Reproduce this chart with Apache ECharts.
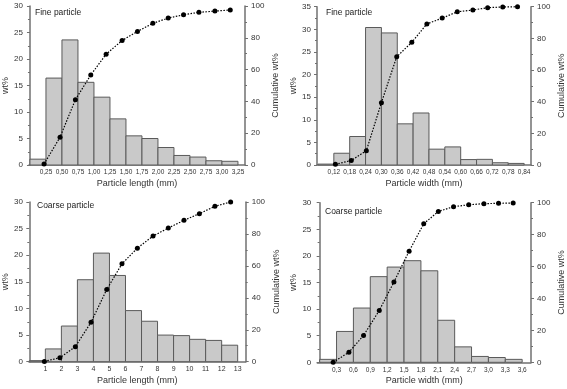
<!DOCTYPE html>
<html>
<head>
<meta charset="utf-8">
<script src="https://cdn.jsdelivr.net/npm/echarts@6/dist/echarts.min.js"></script>
<style>html,body{margin:0;padding:0;background:#fff}#c{width:567px;height:389px}</style>
</head>
<body>
<div id="c"></div>
<script>
// ---------- DATA ----------
// Panel A: fine particle, length
const fineLenEdges = [0, 0.25, 0.5, 0.75, 1.0, 1.25, 1.5, 1.75, 2.0, 2.25, 2.5, 2.75, 3.0, 3.25];
const fineLenWt = [1.1, 16.4, 23.6, 15.6, 12.8, 8.7, 5.5, 5.0, 3.3, 1.8, 1.5, 0.8, 0.7];
const fineLenCumX = [0.22, 0.47, 0.71, 0.95, 1.19, 1.44, 1.68, 1.92, 2.16, 2.40, 2.64, 2.89, 3.13];
const fineLenCumY = [0.6, 17.5, 41.1, 56.6, 69.7, 78.3, 84.0, 89.1, 92.4, 94.5, 96.0, 96.8, 97.5];
const fineLenTicks = [0.25, 0.5, 0.75, 1.0, 1.25, 1.5, 1.75, 2.0, 2.25, 2.5, 2.75, 3.0, 3.25];

// Panel B: fine particle, width
const fineWidEdges = [0.06, 0.12, 0.18, 0.24, 0.30, 0.36, 0.42, 0.48, 0.54, 0.60, 0.66, 0.72, 0.78, 0.84];
const fineWidWt = [0.2, 2.6, 6.3, 30.4, 29.2, 9.1, 11.5, 3.5, 4.0, 1.2, 1.25, 0.5, 0.35];
const fineWidCumX = [0.126, 0.186, 0.243, 0.300, 0.358, 0.415, 0.472, 0.530, 0.587, 0.646, 0.702, 0.759, 0.815];
const fineWidCumY = [0.4, 2.9, 9.0, 39.4, 68.4, 77.5, 89.1, 92.8, 96.8, 97.9, 99.4, 99.8, 100];
const fineWidTicks = [0.12, 0.18, 0.24, 0.30, 0.36, 0.42, 0.48, 0.54, 0.60, 0.66, 0.72, 0.78, 0.84];

// Panel C: coarse particle, length
const coarseLenEdges = [0, 1, 2, 3, 4, 5, 6, 7, 8, 9, 10, 11, 12, 13];
const coarseLenWt = [0.2, 2.4, 6.7, 15.4, 20.4, 16.2, 9.6, 7.6, 5.0, 4.9, 4.2, 4.0, 3.1];
const coarseLenCumX = [0.94, 1.91, 2.87, 3.85, 4.83, 5.78, 6.74, 7.72, 8.67, 9.65, 10.61, 11.58, 12.56];
const coarseLenCumY = [0.2, 2.5, 9.4, 24.7, 45.2, 61.3, 71.1, 78.7, 83.7, 88.5, 92.7, 97.3, 100];
const coarseLenTicks = [1, 2, 3, 4, 5, 6, 7, 8, 9, 10, 11, 12, 13];

// Panel D: coarse particle, width
const coarseWidEdges = [0, 0.3, 0.6, 0.9, 1.2, 1.5, 1.8, 2.1, 2.4, 2.7, 3.0, 3.3, 3.6];
const coarseWidWt = [0.55, 5.8, 10.2, 16.1, 17.9, 19.1, 17.2, 7.9, 2.9, 1.1, 0.9, 0.55];
const coarseWidCumX = [0.24, 0.52, 0.78, 1.06, 1.32, 1.59, 1.85, 2.11, 2.38, 2.65, 2.92, 3.18, 3.44];
const coarseWidCumY = [0, 6.3, 16.8, 32.5, 50.3, 69.6, 86.8, 94.5, 97.5, 98.7, 99.4, 99.6, 99.8];
const coarseWidTicks = [0.3, 0.6, 0.9, 1.2, 1.5, 1.8, 2.1, 2.4, 2.7, 3.0, 3.3, 3.6];

const titles = ['Fine particle', 'Fine particle', 'Coarse particle', 'Coarse particle'];
const xNames = ['Particle length (mm)', 'Particle width (mm)', 'Particle length (mm)', 'Particle width (mm)'];
const yNameLeft = 'wt%';
const yNameRight = 'Cumulative wt%';

// ---------- LAYOUT / STYLE ----------
const FONT = 'Liberation Sans, Arial, sans-serif';
const AX = '#707070';
const TXT = '#333';
const panels = [
  {edges: fineLenEdges, wt: fineLenWt, cx: fineLenCumX, cy: fineLenCumY, ticks: fineLenTicks, dec: 2,
   grid: {left: 29, right: 322, top: 6, bottom: 224}, xmin: -0.015, xmax: 3.36, ymax: 30, xfs: 6.5,
   title: {left: 35, top: 8}},
  {edges: fineWidEdges, wt: fineWidWt, cx: fineWidCumX, cy: fineWidCumY, ticks: fineWidTicks, dec: 2,
   grid: {left: 317, right: 33.3, top: 6.7, bottom: 224}, xmin: 0.0563, xmax: 0.866, ymax: 35, xfs: 6.5,
   title: {left: 326, top: 8}},
  {edges: coarseLenEdges, wt: coarseLenWt, cx: coarseLenCumX, cy: coarseLenCumY, ticks: coarseLenTicks, dec: 0,
   grid: {left: 29, right: 321.3, top: 202, bottom: 27.3}, xmin: -0.02, xmax: 13.5, ymax: 30, xfs: 7,
   title: {left: 37, top: 201}},
  {edges: coarseWidEdges, wt: coarseWidWt, cx: coarseWidCumX, cy: coarseWidCumY, ticks: coarseWidTicks, dec: 1,
   grid: {left: 317.3, right: 31.7, top: 202.7, bottom: 26.7}, xmin: -0.042, xmax: 3.757, ymax: 30, xfs: 6.5,
   title: {left: 325, top: 207}}
];

const option = {
  animation: false,
  backgroundColor: '#fff',
  title: [], grid: [], xAxis: [], yAxis: [], series: []
};

function renderBar(params, api) {
  const x0 = api.value(0), x1 = api.value(1), y = api.value(2);
  const p0 = api.coord([x0, y]);
  const p1 = api.coord([x1, 0]);
  return {
    type: 'rect',
    shape: {x: p0[0], y: p0[1], width: p1[0] - p0[0], height: p1[1] - p0[1]},
    style: {fill: '#c9c9c9', stroke: '#5a5a5a', lineWidth: 1}
  };
}

panels.forEach((p, i) => {
  option.title.push({
    text: titles[i], left: p.title.left, top: p.title.top, padding: 0,
    textStyle: {fontFamily: FONT, fontSize: 8.5, fontWeight: 'normal', color: '#222'}
  });
  option.grid.push(Object.assign({containLabel: false}, p.grid));
  option.xAxis.push({
    type: 'value', gridIndex: i, min: p.xmin, max: p.xmax,
    name: xNames[i], nameLocation: 'middle', nameGap: 14,
    nameTextStyle: {fontFamily: FONT, fontSize: 9, color: TXT},
    axisLine: {show: true, onZero: false, lineStyle: {color: AX, width: 1.5}},
    axisTick: {show: false},
    splitLine: {show: false},
    axisLabel: {
      customValues: p.ticks, margin: 4,
      fontFamily: FONT, fontSize: p.xfs, color: TXT,
      formatter: v => v.toFixed(p.dec).replace('.', ',')
    }
  });
  // left y
  option.yAxis.push({
    type: 'value', gridIndex: i, min: 0, max: p.ymax, interval: 5, position: 'left',
    name: yNameLeft, nameLocation: 'middle', nameGap: 18, nameRotate: 90,
    nameTextStyle: {fontFamily: FONT, fontSize: 9, color: TXT},
    axisLine: {show: true, lineStyle: {color: AX, width: 1.5}},
    axisTick: {show: true, length: 3, lineStyle: {color: AX}},
    minorTick: {show: true, splitNumber: 2, length: 2, lineStyle: {color: AX}},
    splitLine: {show: false},
    axisLabel: {margin: 6, fontFamily: FONT, fontSize: 8, color: TXT}
  });
  // right y
  option.yAxis.push({
    type: 'value', gridIndex: i, min: 0, max: 100, interval: 20, position: 'right',
    name: yNameRight, nameLocation: 'middle', nameGap: 26, nameRotate: 90,
    nameTextStyle: {fontFamily: FONT, fontSize: 9, color: TXT},
    axisLine: {show: true, lineStyle: {color: AX, width: 1.5}},
    axisTick: {show: true, length: 3, lineStyle: {color: AX}},
    minorTick: {show: true, splitNumber: 2, length: 2, lineStyle: {color: AX}},
    splitLine: {show: false},
    axisLabel: {margin: 6, fontFamily: FONT, fontSize: 8, color: TXT}
  });
  const bars = p.wt.map((w, k) => [p.edges[k], p.edges[k + 1], w]);
  option.series.push({
    type: 'custom', xAxisIndex: i, yAxisIndex: 2 * i,
    renderItem: renderBar, encode: {x: [0, 1], y: 2},
    data: bars, silent: true, z: 2
  });
  option.series.push({
    type: 'line', xAxisIndex: i, yAxisIndex: 2 * i + 1,
    data: p.cx.map((x, k) => [x, p.cy[k]]),
    symbol: 'circle', symbolSize: 5,
    itemStyle: {color: '#000'},
    lineStyle: {color: '#000', width: 1.2, type: [1.5, 1.5]},
    z: 3, silent: true
  });
});

const chart = echarts.init(document.getElementById('c'), null, {renderer: 'canvas'});
chart.setOption(option);
</script>
</body>
</html>
